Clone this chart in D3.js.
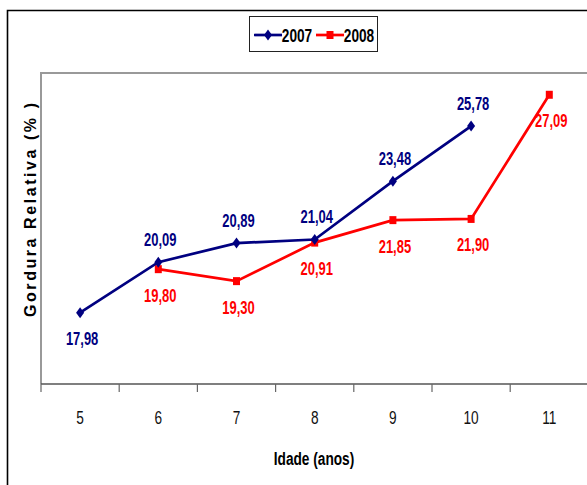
<!DOCTYPE html>
<html>
<head>
<meta charset="utf-8">
<script src="https://cdn.jsdelivr.net/npm/d3@7"></script>
<style>
  body { margin: 0; background: #fff; }
  svg text { font-family: Arial, "Liberation Sans", sans-serif; }
</style>
</head>
<body>
<div id="grafiek"></div>
<script>
// data uit de figuur
var idades = ["5", "6", "7", "8", "9", "10", "11"];
var gordura2007 = [17.98, 20.09, 20.89, 21.04, 23.48, 25.78, null];
var gordura2008 = [null, 19.80, 19.30, 20.91, 21.85, 21.90, 27.09];
var seriesNomes = ["2007", "2008"];

var breedte = 587, hoogte = 485;
var marge = {boven: 73, beneden: 101, links: 41};
var smal = 0.72; // tekst is horizontaal samengedrukt

var svg = d3.select("#grafiek")
            .append("svg")
            .attr("width", breedte)
            .attr("height", hoogte);

// buitenkader (alleen links en boven zichtbaar)
svg.append("path")
   .attr("d", "M7.5,485 V10.5 H587")
   .attr("fill", "none")
   .attr("stroke", "#000")
   .attr("stroke-width", 1.6);

var x = d3.scaleBand()
          .domain(idades)
          .range([marge.links, marge.links + 7 * 78.2]);

var y = d3.scaleLinear()
          .domain([15, 28])
          .range([hoogte - marge.beneden, marge.boven]);

var komma = d3.formatLocale({decimal: ",", thousands: ".", grouping: [3], currency: ["", ""]}).format(".2f");

// hulpfunctie voor smalle tekst
function tekst(g, xPos, yPos, inhoud) {
  return g.append("text")
          .attr("transform", "translate(" + xPos + "," + yPos + ") scale(" + smal + ",1)")
          .attr("text-anchor", "middle")
          .text(inhoud);
}

// plotgebied rand
svg.append("path")
   .attr("d", "M" + marge.links + "," + y.range()[0] + " V" + marge.boven + " H" + breedte)
   .attr("fill", "none")
   .attr("stroke", "#999")
   .attr("stroke-width", 2);

// x-as
svg.append("line")
   .attr("x1", marge.links).attr("x2", breedte)
   .attr("y1", y.range()[0]).attr("y2", y.range()[0])
   .attr("stroke", "#555")
   .attr("stroke-width", 1.5);

svg.selectAll(".streepje")
   .data(idades)
   .enter().append("line")
   .attr("class", "streepje")
   .attr("x1", function(d) { return x(d); })
   .attr("x2", function(d) { return x(d); })
   .attr("y1", y.range()[0])
   .attr("y2", y.range()[0] + 8)
   .attr("stroke", "#666")
   .attr("stroke-width", 1.2);

idades.forEach(function(d) {
  tekst(svg, x(d) + x.bandwidth() / 2, 424, d)
    .attr("font-size", 19)
    .attr("fill", "#111");
});

tekst(svg, (marge.links + breedte) / 2, 465, "Idade (anos)")
  .attr("font-size", 19)
  .attr("font-weight", "bold");

// y-as titel
svg.append("text")
   .attr("transform", "translate(36,210) rotate(-90)")
   .attr("text-anchor", "middle")
   .attr("font-size", 16)
   .attr("font-weight", "bold")
   .attr("textLength", 214)
   .attr("lengthAdjust", "spacing")
   .text("Gordura Relativa (% )");

var lijn = d3.line()
             .defined(function(d) { return d.v != null; })
             .x(function(d) { return x(d.idade) + x.bandwidth() / 2; })
             .y(function(d) { return y(d.v); });

function punten(reeks) {
  return idades.map(function(d, i) { return {idade: d, v: reeks[i], i: i}; });
}

var ruit = "M0,-5.5 L4,0 L0,5.5 L-4,0 Z";
var vierkant = "M-3.5,-4 H3.5 V4 H-3.5 Z";

// 2008 eerst, 2007 erboven
[
  {data: punten(gordura2008), kleur: "#FF0000", vorm: vierkant, boven: false},
  {data: punten(gordura2007), kleur: "#000080", vorm: ruit, boven: true}
].forEach(function(s) {
  var pts = s.data.filter(function(d) { return d.v != null; });

  svg.append("path")
     .attr("d", lijn(s.data))
     .attr("fill", "none")
     .attr("stroke", s.kleur)
     .attr("stroke-width", 2.7);

  svg.selectAll(null)
     .data(pts)
     .enter().append("path")
     .attr("d", s.vorm)
     .attr("transform", function(d) {
       return "translate(" + lijn.x()(d) + "," + lijn.y()(d) + ")"; })
     .attr("fill", s.kleur);

  pts.forEach(function(d, j) {
    var boven = s.boven && j > 0;
    var yPos = lijn.y()(d) + (boven ? -23 : 26) + 6.5;
    tekst(svg, lijn.x()(d) + 2, yPos, komma(d.v))
      .attr("font-size", 18)
      .attr("font-weight", "bold")
      .attr("fill", s.kleur);
  });
});

// legenda
var legenda = svg.append("g");
legenda.append("rect")
       .attr("x", 249.5).attr("y", 16.5)
       .attr("width", 128).attr("height", 35)
       .attr("fill", "#fff")
       .attr("stroke", "#222")
       .attr("stroke-width", 1);

[{x: 254, kleur: "#000080", vorm: ruit, naam: seriesNomes[0]},
 {x: 316, kleur: "#FF0000", vorm: vierkant, naam: seriesNomes[1]}].forEach(function(l) {
  legenda.append("line")
         .attr("x1", l.x).attr("x2", l.x + 28)
         .attr("y1", 35).attr("y2", 35)
         .attr("stroke", l.kleur)
         .attr("stroke-width", 2.7);
  legenda.append("path")
         .attr("d", l.vorm)
         .attr("transform", "translate(" + (l.x + 14) + ",35)")
         .attr("fill", l.kleur);
  tekst(legenda, l.x + 43, 41.5, l.naam)
    .attr("font-size", 19)
    .attr("font-weight", "bold");
});
</script>
</body>
</html>
